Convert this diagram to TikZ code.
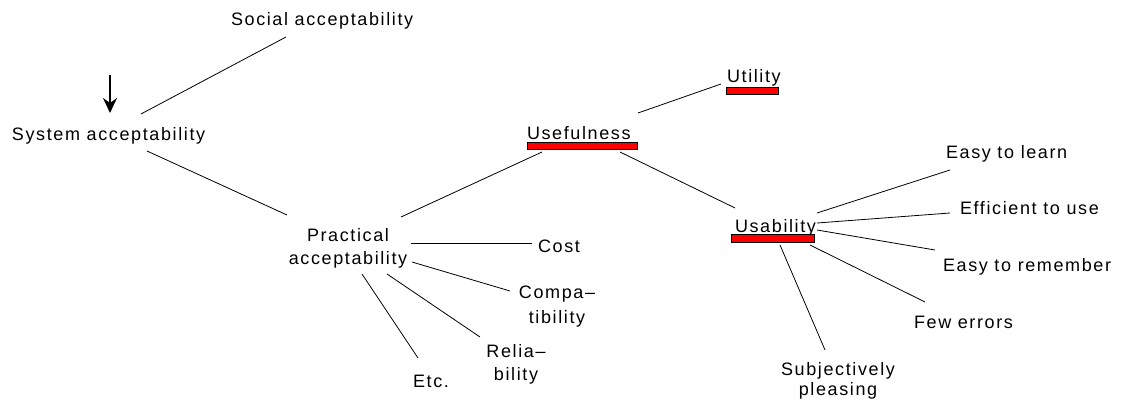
\documentclass[tikz,border=0pt]{standalone}
\usepackage{fontspec}
\setmainfont{Liberation Sans}[LetterSpace=9]
\usetikzlibrary{arrows.meta}
\begin{document}
\begin{tikzpicture}[x=1pt,y=-1pt,
  every node/.style={inner sep=0pt,outer sep=0pt},
  lbl/.style={anchor=base west,font=\fontsize{18}{23}\selectfont},
  lbl2/.style={anchor=base,align=center,font=\fontsize{18}{23}\selectfont},
  link/.style={line width=0.8pt,black},
  redbar/.style={draw=black,line width=0.6pt,fill=red}]
\useasboundingbox (0,0) rectangle (1126,403);

% labels (two-line labels are placed by the baseline of their last line)
\node[lbl] (soc) at (231,26) {Social acceptability};
\node[lbl] (sys) at (12,141) {System acceptability};
\node[lbl2] (prac) at (348,265) {Practical\\[1pt]acceptability};
\node[lbl] (cost) at (538,253) {Cost};
\node[lbl2] (compa) at (557,323) {Compa–\\[2pt]tibility};
\node[lbl2] (relia) at (516,380) {Relia–\\bility};
\node[lbl] (etc) at (413,387) {Etc.};
\node[lbl] (use) at (527,140) {Usefulness};
\node[lbl] (util) at (727,83) {Utility};
\node[lbl] (usab) at (735,233) {Usability};
\node[lbl] (learn) at (946,159) {Easy to learn};
\node[lbl] (eff) at (960,215) {Efficient to use};
\node[lbl] (rem) at (943,272) {Easy to remember};
\node[lbl] (few) at (914,328) {Few errors};
\node[lbl2] (subj) at (838,395) {Subjectively\\[-3pt]pleasing};

% red bars under the usability-related terms
\draw[redbar] (527,142) rectangle (637,149);
\draw[redbar] (726,87) rectangle (778,94);
\draw[redbar] (731,234) rectangle (814,242);

% connector end points
\coordinate (soc-a) at (286,37);   \coordinate (sys-a) at (141,114);
\coordinate (sys-b) at (147,151);  \coordinate (prac-a) at (287,215);
\coordinate (prac-b) at (401,217); \coordinate (use-a) at (542,152);
\coordinate (prac-c) at (411,243); \coordinate (cost-a) at (532,243);
\coordinate (prac-d) at (412,262); \coordinate (compa-a) at (510,291);
\coordinate (prac-e) at (387,274); \coordinate (relia-a) at (480,337);
\coordinate (prac-f) at (362,274); \coordinate (etc-a) at (418,358);
\coordinate (use-b) at (638,113);  \coordinate (util-a) at (721,84);
\coordinate (use-c) at (620,152);  \coordinate (usab-a) at (735,208);
\coordinate (usab-b) at (817,213); \coordinate (learn-a) at (950,170);
\coordinate (usab-c) at (817,223); \coordinate (eff-a) at (950,213);
\coordinate (usab-d) at (817,230); \coordinate (rem-a) at (935,250);
\coordinate (usab-e) at (810,245); \coordinate (few-a) at (925,302);
\coordinate (usab-f) at (780,245); \coordinate (subj-a) at (825,350);
\coordinate (arr-top) at (110,75); \coordinate (arr-end) at (110,113);

% connectors
\draw[link] (soc-a) -- (sys-a);
\draw[link] (sys-b) -- (prac-a);
\draw[link] (prac-b) -- (use-a);
\draw[link] (prac-c) -- (cost-a);
\draw[link] (prac-d) -- (compa-a);
\draw[link] (prac-e) -- (relia-a);
\draw[link] (prac-f) -- (etc-a);
\draw[link] (use-b) -- (util-a);
\draw[link] (use-c) -- (usab-a);
\draw[link] (usab-b) -- (learn-a);
\draw[link] (usab-c) -- (eff-a);
\draw[link] (usab-d) -- (rem-a);
\draw[link] (usab-e) -- (few-a);
\draw[link] (usab-f) -- (subj-a);

% entry arrow
\draw[line width=1.4pt,-{Stealth[length=15pt,width=14pt,inset=5pt]}] (arr-top) -- (arr-end);
\end{tikzpicture}
\end{document}
